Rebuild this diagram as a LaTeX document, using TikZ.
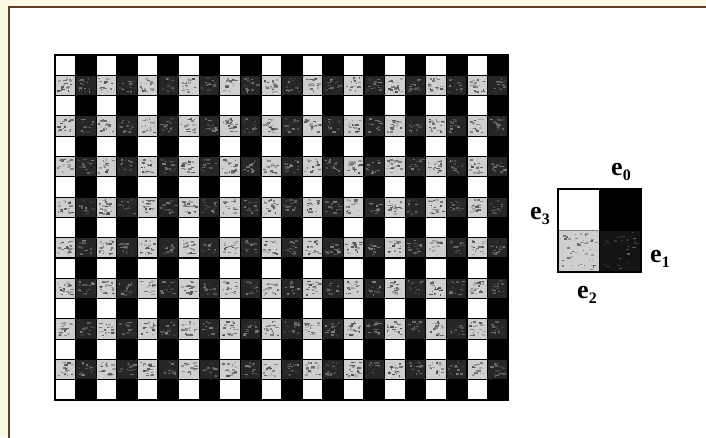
\documentclass[tikz,border=0pt]{standalone}
\usepackage{fontspec}
\setmainfont{Liberation Serif}
\newcommand{\elab}[1]{e\raisebox{-0.45ex}{\fontsize{16}{16}\selectfont #1}}
\begin{document}
\begin{tikzpicture}[x=1pt,y=-1pt]
\definecolor{bgyellow}{HTML}{FBF9E4}
\definecolor{framebrown}{HTML}{5A3F22}
\definecolor{lightcell}{HTML}{CFCFCF}
\definecolor{darkcell}{HTML}{262626}
\tikzset{
  cellline/.style={draw=black,line width=1.1pt},
  lab/.style={font=\fontsize{26}{26}\selectfont\bfseries,inner sep=0pt}
}
\useasboundingbox (0,0) rectangle (706,437);
\fill[bgyellow] (0,0) rectangle (706,437);
\filldraw[fill=white,draw=framebrown,line width=1.6pt] (9,7) rectangle (730,460);
\pgfmathsetseed{7}
% main grid
\foreach \r in {0,...,16} {
  \foreach \c in {0,...,21} {
    \pgfmathsetmacro\xa{55+\c*20.6}
    \pgfmathsetmacro\ya{55+\r*20.3}
    \ifodd\r
      \ifodd\c
        \fill[darkcell] (\xa,\ya) rectangle ++(20.6,20.3);
        \foreach \k in {1,...,14} {
          \pgfmathsetmacro\px{\xa+2+rnd*14}
          \pgfmathsetmacro\py{\ya+2+rnd*14}
          \pgfmathsetmacro\pw{1+rnd*3}
          \pgfmathsetmacro\pg{50+rnd*30}
          \fill[black!\pg] (\px,\py) rectangle ++(\pw,1.5);
        }
      \else
        \fill[lightcell] (\xa,\ya) rectangle ++(20.6,20.3);
        \foreach \k in {1,...,18} {
          \pgfmathsetmacro\px{\xa+2+rnd*14}
          \pgfmathsetmacro\py{\ya+2+rnd*14}
          \pgfmathsetmacro\pw{1+rnd*3}
          \pgfmathsetmacro\pg{30+rnd*40}
          \fill[black!\pg] (\px,\py) rectangle ++(\pw,1.5);
        }
      \fi
    \else
      \ifodd\c
        \fill[black] (\xa,\ya) rectangle ++(20.6,20.3);
      \else
        \fill[white] (\xa,\ya) rectangle ++(20.6,20.3);
      \fi
    \fi
    \draw[cellline] (\xa,\ya) rectangle ++(20.6,20.3);
  }
}
\draw[black,line width=1.8pt] (55,55) rectangle (508.2,400.1);
% legend square
\fill[white] (558,189) rectangle (599.5,230.5);
\fill[black] (599.5,189) rectangle (641,230.5);
\fill[lightcell] (558,230.5) rectangle (599.5,272);
\fill[black!92] (599.5,230.5) rectangle (641,272);
\foreach \k in {1,...,45} {
  \pgfmathsetmacro\px{560+rnd*37}
  \pgfmathsetmacro\py{232+rnd*37}
  \pgfmathsetmacro\pw{1+rnd*2.5}
  \pgfmathsetmacro\pg{30+rnd*35}
  \fill[black!\pg] (\px,\py) rectangle ++(\pw,1.4);
}
\foreach \k in {1,...,25} {
  \pgfmathsetmacro\px{601+rnd*37}
  \pgfmathsetmacro\py{232+rnd*37}
  \pgfmathsetmacro\pw{1+rnd*2.5}
  \pgfmathsetmacro\pg{60+rnd*25}
  \fill[black!\pg] (\px,\py) rectangle ++(\pw,1.2);
}
\draw[black!50,line width=1pt] (558,230.5) -- (599.5,230.5);
\draw[black,line width=1.8pt] (558,189) rectangle (641,272);
\draw[black,line width=0.8pt] (599.5,189) -- (599.5,272);
% labels
\node[lab] (e0) at (621,172) {\elab{0}};
\node[lab] (e3) at (540,216) {\elab{3}};
\node[lab] (e1) at (660,259) {\elab{1}};
\node[lab] (e2) at (587,295) {\elab{2}};
\end{tikzpicture}
\end{document}
